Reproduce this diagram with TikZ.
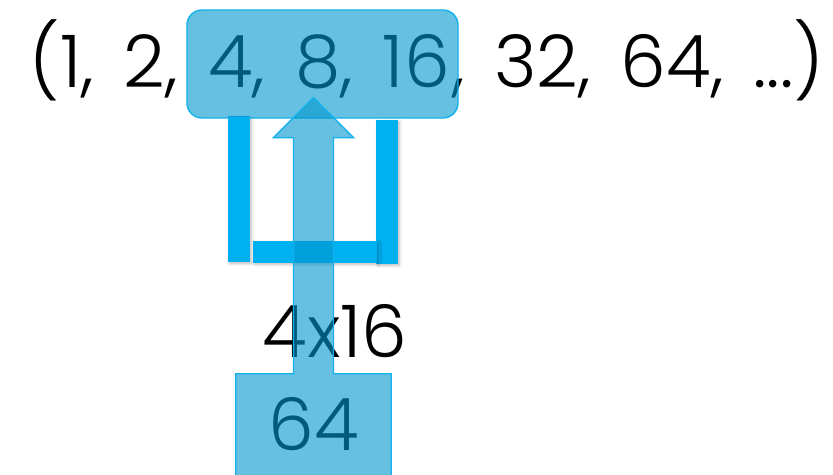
\documentclass[tikz,border=0pt]{standalone}
\usepackage{fontspec}
\setmainfont{Poppins Light}[WordSpace=1.5]
\usetikzlibrary{calc, shadows.blur}
\definecolor{barblue}{RGB}{0,176,240}
\definecolor{hlblue}{RGB}{0,150,205}
\definecolor{edgeblue}{RGB}{20,178,236}
\tikzset{
  seq/.style={inner sep=0pt, font=\fontsize{62}{70}\selectfont},
  window/.style={
    rectangle, rounded corners=0.45cm, draw=edgeblue, line width=1.2pt,
    fill=hlblue, fill opacity=0.6,
    minimum width=8.13cm, minimum height=3.24cm
  },
  bar/.style={
    fill=barblue, draw=none,
    blur shadow={shadow xshift=1.5pt, shadow yshift=-1.5pt,
      shadow opacity=25, shadow blur steps=6}
  },
  blockarrow/.style={
    draw=edgeblue, line width=1.2pt, fill=hlblue, fill opacity=0.6,
    line join=miter
  },
  prodbox/.style={
    inner sep=0pt, font=\fontsize{62}{70}\selectfont,
    minimum width=4.65cm, minimum height=3.03cm
  }
}
\begin{document}
\begin{tikzpicture}[x=0.03cm, y=-0.03cm]
  \useasboundingbox (0,0) rectangle (833,475);
  \clip (0,0) rectangle (833,475);

  % the sequence
  \node[seq, anchor=base east] (lead) at (178,87) {(1, 2,};
  \node[seq, anchor=base west] (inwin) at (208,87) {4, 8, 16};
  \node[seq, anchor=base east] (tail) at (824,87) {, 32, 64, ...)};

  \node[seq, anchor=base] (factor) at (335,357) {4x16};
  \node[prodbox] (prod) at (313.5,424.5) {\raisebox{-4.7pt}{64}};

  % bracket
  \fill[bar] (228,116) rectangle (250,262);
  \fill[bar] (376,120) rectangle (398,264);
  \fill[bar] (253,241) rectangle (377,263);

  \node[window] (win) at (322.5,64) {};

  \coordinate (tip) at ($(prod.north |- win.south)+(0,-21)$);
  \draw[blockarrow] ($(prod.south west)+(0,15)$) -- (prod.north west)
    -- ($(prod.north)+(-20,0)$) -- ($(tip)+(-20,40)$) -- ($(tip)+(-40,40)$)
    -- (tip) -- ($(tip)+(40,40)$) -- ($(tip)+(20,40)$)
    -- ($(prod.north)+(20,0)$) -- (prod.north east)
    -- ($(prod.south east)+(0,15)$) -- cycle;
\end{tikzpicture}
\end{document}
